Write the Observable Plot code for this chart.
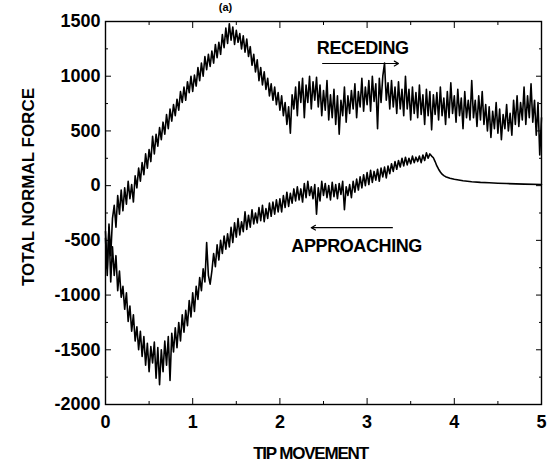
<!DOCTYPE html>
<html><head><meta charset="utf-8">
<script src="https://cdn.jsdelivr.net/npm/d3@7"></script>
<script src="https://cdn.jsdelivr.net/npm/@observablehq/plot@0.6"></script>
<style>
html,body{margin:0;padding:0;background:#fff;}
#chart{width:549px;height:470px;overflow:hidden;}
</style></head><body><div id="chart"></div>
<script>
// sample spacing of the noisy traces (tip movement units)
const xStep = 0.02;

// RECEDING trace, x = 0 .. 5
const recedingForce = [
  -480, -820, -350, -640, -300, -180, -380, -90, -260, -40,
  -230, -20, -170, 40, -120, 10, -150, 90, -20, 160,
  40, 210, 100, 290, 160, 330, 220, 450, 290, 470,
  360, 530, 420, 580, 470, 650, 520, 700, 590, 740,
  640, 790, 690, 860, 760, 900, 780, 950, 850, 1000,
  860, 1010, 910, 1080, 960, 1120, 1000, 1180, 1060, 1200,
  1090, 1230, 1120, 1290, 1170, 1310, 1200, 1380, 1260, 1440,
  1300, 1480, 1330, 1450, 1290, 1420, 1310, 1390, 1250, 1370,
  1220, 1340, 1180, 1270, 1100, 1200, 1040, 1150, 960, 1080,
  920, 1040, 880, 980, 820, 930, 780, 900, 740, 850,
  690, 820, 640, 760, 560, 720, 480, 830, 700, 900,
  640, 950, 760, 980, 620, 920, 760, 1000, 700, 950,
  780, 990, 720, 920, 640, 870, 690, 960, 600, 830,
  620, 880, 560, 820, 470, 780, 640, 900, 580, 820,
  660, 870, 700, 930, 620, 860, 720, 980, 680, 900,
  740, 960, 680, 1000, 770, 930, 520, 980, 760, 1000,
  1120, 780, 940, 700, 960, 720, 900, 660, 950, 700,
  880, 640, 1000, 700, 880, 600, 900, 660, 850, 620,
  920, 650, 830, 560, 880, 640, 860, 510, 830, 650,
  850, 600, 900, 640, 800, 560, 860, 620, 940, 660,
  820, 580, 880, 640, 800, 520, 860, 620, 780, 600,
  960, 620, 780, 540, 820, 600, 860, 560, 740, 500,
  720, 440, 680, 520, 760, 480, 700, 420, 650, 520,
  740, 500, 660, 460, 780, 560, 820, 540, 760, 600,
  900, 560, 820, 620, 930, 580, 780, 460, 760, 280,
  620
];

// APPROACHING trace, noisy part, x = 0 .. 3.74
const approachingForce = [
  -420, -760, -380, -880, -560, -820, -640, -960, -780, -1020,
  -920, -1130, -980, -1240, -1100, -1330, -1180, -1420, -1290, -1500,
  -1330, -1560, -1380, -1640, -1440, -1700, -1470, -1620, -1430, -1760,
  -1480, -1820, -1500, -1700, -1420, -1640, -1380, -1780, -1350, -1520,
  -1300, -1480, -1250, -1420, -1180, -1340, -1140, -1280, -1050, -1200,
  -980, -1150, -920, -1040, -840, -960, -760, -880, -520, -820,
  -900, -780, -620, -740, -540, -680, -500, -620, -460, -580,
  -440, -560, -380, -520, -340, -470, -300, -450, -330, -420,
  -240, -400, -270, -380, -220, -350, -250, -340, -200, -320,
  -180, -330, -210, -300, -160, -280, -150, -260, -130, -240,
  -120, -240, -90, -200, -60, -190, -70, -160, -30, -140,
  -10, -130, -30, -150, 20, -110, 40, -90, -10, -120,
  10, -260, -20, -140, 40, -90, 20, -110, 0, -130,
  30, -100, 10, -120, 20, -80, 40, -220, -10, -90,
  10, -110, 40, -60, 60, -40, 80, -20, 100, 0,
  120, 10, 140, 30, 130, 50, 150, 40, 160, 80,
  170, 70, 180, 110, 200, 130, 220, 150, 230, 170,
  250, 180, 260, 190, 250, 200, 270, 210, 260, 220,
  270, 210, 280, 230, 300, 250, 290, 270
];

// APPROACHING trace, smooth tail
const approachingTailX = [3.76, 3.78, 3.80, 3.82, 3.84, 3.86, 3.88, 3.90, 3.95, 4.00, 4.10, 4.20, 4.30, 4.40, 4.50, 4.60, 4.80, 5.00];
const approachingTailForce = [255, 220, 180, 150, 125, 105, 92, 82, 68, 58, 45, 36, 30, 26, 22, 19, 14, 10];

// axes
const xTicks = [0, 1, 2, 3, 4, 5];
const xMinorTicks = [0.5, 1.5, 2.5, 3.5, 4.5];
const yTicks = [-2000, -1500, -1000, -500, 0, 500, 1000, 1500];
const yMinorTicks = [-1750, -1250, -750, -250, 250, 750, 1250];
const xTitle = "TIP MOVEMENT";
const yTitle = "TOTAL NORMAL FORCE";
const panelTag = "(a)";

// annotations
const curveLabelText = ["RECEDING", "APPROACHING"];
const curveLabelX = [2.95, 2.88];
const curveLabelY = [1253, -555];
const arrowX1 = [2.49, 3.29];
const arrowX2 = [3.36, 2.36];
const arrowY = [1116, -384];

const receding = recedingForce.map((f, i) => ({x: +(i * xStep).toFixed(2), f}));
const approaching = approachingForce.map((f, i) => ({x: +(i * xStep).toFixed(2), f}))
  .concat(approachingTailX.map((x, i) => ({x, f: approachingTailForce[i]})));
const labels = curveLabelText.map((t, i) => ({t, x: curveLabelX[i], y: curveLabelY[i]}));
const arrows = arrowX1.map((x1, i) => ({x1, x2: arrowX2[i], y: arrowY[i]}));

const font = "'Liberation Sans', Arial, Helvetica, sans-serif";
const blank = () => "";
const plain = d => String(d);

const chart = Plot.plot({
  width: 549, height: 470,
  marginLeft: 105, marginRight: 8, marginTop: 21, marginBottom: 66,
  style: {fontFamily: font, fontWeight: "bold", fontSize: "18px", background: "#fff", color: "#000"},
  x: {domain: [0, 5]},
  y: {domain: [-2000, 1500]},
  marks: [
    Plot.line(receding, {x: "x", y: "f", stroke: "#000", strokeWidth: 1.6}),
    Plot.line(approaching, {x: "x", y: "f", stroke: "#000", strokeWidth: 1.6}),
    Plot.frame({stroke: "#000", strokeWidth: 1.4}),
    Plot.axisX({anchor: "bottom", ticks: xTicks, tickSize: 0, tickPadding: 11, tickFormat: plain, fontSize: 18, label: null}),
    Plot.axisY({anchor: "left", ticks: yTicks, tickSize: 0, tickPadding: 5, tickFormat: plain, fontSize: 18, label: null}),
    Plot.axisX({anchor: "bottom", ticks: xTicks, tickSize: -6, tickFormat: blank, label: null}),
    Plot.axisX({anchor: "bottom", ticks: xMinorTicks, tickSize: -3, tickFormat: blank, label: null}),
    Plot.axisX({anchor: "top", ticks: xTicks, tickSize: -6, tickFormat: blank, label: null}),
    Plot.axisX({anchor: "top", ticks: xMinorTicks, tickSize: -3, tickFormat: blank, label: null}),
    Plot.axisY({anchor: "left", ticks: yTicks, tickSize: -6, tickFormat: blank, label: null}),
    Plot.axisY({anchor: "left", ticks: yMinorTicks, tickSize: -3, tickFormat: blank, label: null}),
    Plot.axisY({anchor: "right", ticks: yTicks, tickSize: -6, tickFormat: blank, label: null}),
    Plot.axisY({anchor: "right", ticks: yMinorTicks, tickSize: -3, tickFormat: blank, label: null}),
    Plot.arrow(arrows, {x1: "x1", x2: "x2", y1: "y", y2: "y", stroke: "#000", strokeWidth: 1.2, headLength: 6, bend: 0}),
    Plot.text(labels, {x: "x", y: "y", text: "t", fontSize: 18, fontWeight: "bold", fill: "#000"}),
    Plot.text([xTitle], {text: d => d, frameAnchor: "bottom", textAnchor: "middle", lineAnchor: "middle", dx: -13, dy: 49, fontSize: 17, fontWeight: "bold", fill: "#000"}),
    Plot.text([yTitle], {text: d => d, frameAnchor: "left", textAnchor: "middle", lineAnchor: "middle", dx: -77, dy: -26, rotate: -90, fontSize: 17, fontWeight: "bold", fill: "#000"}),
    Plot.text([panelTag], {text: d => d, frameAnchor: "top", textAnchor: "middle", lineAnchor: "middle", dx: -98, dy: -14, fontSize: 11, fontWeight: "bold", fill: "#000"})
  ]
});

d3.select(chart).selectAll("text")
  .filter(function () { return this.textContent === xTitle; })
  .attr("letter-spacing", "-1.2px");
d3.select(chart).selectAll("text")
  .filter(function () { return this.textContent === "APPROACHING" || this.textContent === "RECEDING"; })
  .attr("letter-spacing", "-0.4px");

document.getElementById("chart").appendChild(chart);
</script>
</body></html>
